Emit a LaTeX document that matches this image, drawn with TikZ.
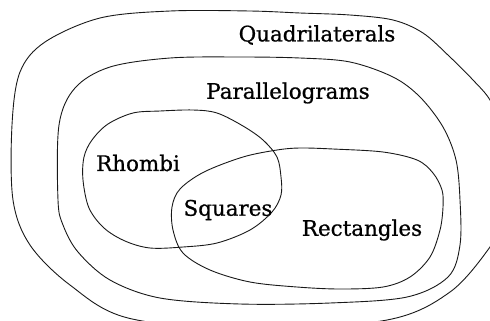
\documentclass[tikz,border=0pt]{standalone}
\usepackage{fontspec}
\newfontfamily\lblfont{DejaVu Serif}[FakeBold=0.8]
\begin{document}
\begin{tikzpicture}[x=1bp,y=-1bp,
  region/.style={draw=black!90,line width=0.9bp,smooth cycle,tension=0.55},
  lbl/.style={font=\lblfont\fontsize{21.5}{26}\selectfont,inner sep=0pt,text=black}]
\clip (0,0) rectangle (490,320);
\useasboundingbox (0,0) rectangle (490,320);
% Quadrilaterals
\draw[region] plot coordinates {(13,200) (12,125) (20,72) (45,42) (100,18) (170,11) (250,11) (300,13) (350,15) (393,20) (423,33) (450,57) (473,80) (490,100) (503,130) (511,175) (503,220) (490,247) (450,292) (387,320) (250,330) (128,318) (70,285) (30,245)};
% Parallelograms
\draw[region] plot coordinates {(58,200) (59,125) (75,88) (110,67) (170,58) (240,57) (300,58) (350,62) (393,77) (420,97) (443,127) (456,160) (460,200) (460,245) (448,277) (407,297) (330,303) (240,304) (160,298) (110,280) (78,252) (63,225)};
% Rhombi
\draw[region] plot coordinates {(83,180) (84,157) (92,140) (108,124) (133,113) (160,111) (193,110) (217,113) (243,126) (263,140) (277,157) (281,177) (281,195) (272,212) (250,230) (217,243) (183,247) (150,248) (125,241) (104,228) (89,208)};
% Rectangles
\draw[region] plot coordinates {(300,148) (333,149) (383,152) (417,160) (433,173) (442,190) (443,207) (440,230) (430,257) (410,277) (383,287) (340,289) (297,287) (250,282) (210,270) (183,253) (173,230) (172,207) (180,189) (204,172) (243,157) (277,150)};
\node[lbl] (quad) at (317,35) {Quadrilaterals};
\node[lbl] (para) at (288,93) {Parallelograms};
\node[lbl] (rhom) at (138,163) {Rhombi};
\node[lbl] (squa) at (228,210) {Squares};
\node[lbl] (rect) at (362,230) {Rectangles};
\end{tikzpicture}
\end{document}
